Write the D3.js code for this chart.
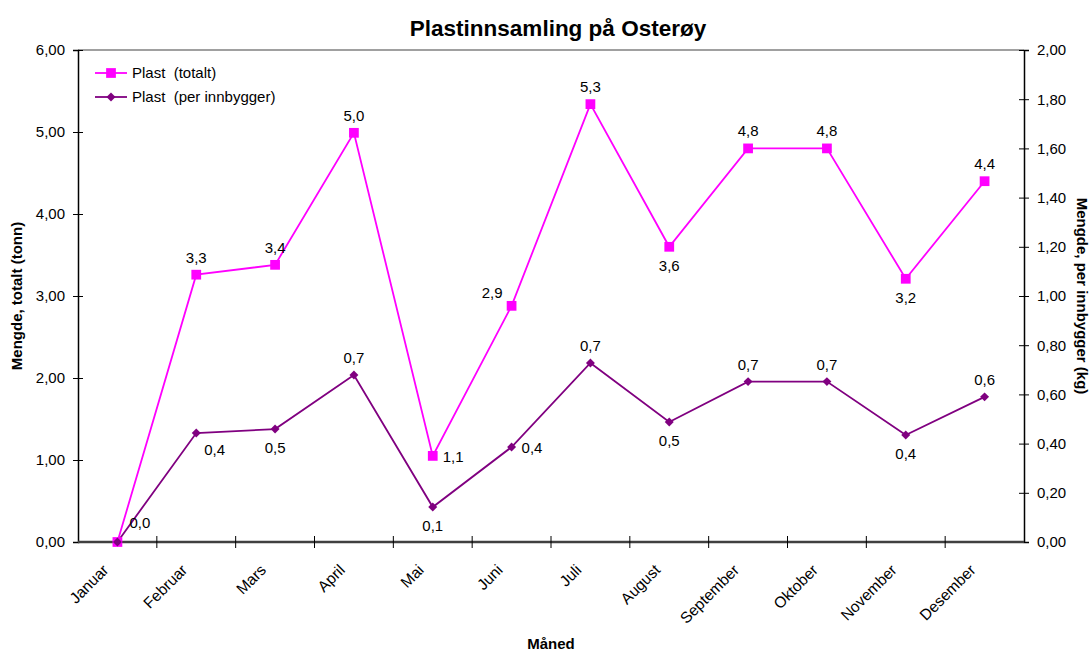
<!DOCTYPE html>
<html>
<head>
<meta charset="utf-8">
<script src="https://cdn.jsdelivr.net/npm/d3@7"></script>
<style>
  body { margin: 0; background: #fff; }
  text { font-family: "Liberation Sans", Arial, sans-serif; fill: #000; white-space: pre; }
</style>
</head>
<body>
<script>
// data
var months = ["Januar", "Februar", "Mars", "April", "Mai", "Juni", "Juli", "August", "September", "Oktober", "November", "Desember"];
var totalt = [0, 3.26, 3.38, 4.99, 1.05, 2.88, 5.34, 3.60, 4.80, 4.80, 3.21, 4.40];
var perInnbygger = [0, 0.443, 0.459, 0.679, 0.142, 0.386, 0.728, 0.488, 0.652, 0.652, 0.435, 0.59];
var leftTicks = [0, 1, 2, 3, 4, 5, 6];
var rightTicks = [0, 0.2, 0.4, 0.6, 0.8, 1.0, 1.2, 1.4, 1.6, 1.8, 2.0];

// where each data label sits relative to its marker
var totaltPos = [null, "above", "above", "above", "right", "left", "above", "below", "above", "above", "below", "above"];
var perPos = ["aboveright", "belowright", "below", "above", "below", "right", "above", "below", "above", "above", "below", "above"];

var width = 1092, height = 651;
var margin = {top: 50, right: 68, bottom: 109, left: 78};
var fs = "15px";

var svg = d3.select("body").append("svg")
    .attr("width", width)
    .attr("height", height);

var x = d3.scaleBand()
    .domain(months)
    .range([margin.left, width - margin.right]);

var yL = d3.scaleLinear().domain([0, 6]).range([height - margin.bottom, margin.top]);
var yR = d3.scaleLinear().domain([0, 2]).range([height - margin.bottom, margin.top]);

var cx = function(d, i) { return x(months[i]) + x.bandwidth() / 2; };
var comma = function(f) { return function(v) { return d3.format(f)(v).replace(".", ","); }; };

// title
svg.append("text")
    .attr("x", 558).attr("y", 36)
    .attr("text-anchor", "middle")
    .style("font-size", "22.5px").style("font-weight", "bold")
    .text("Plastinnsamling på Osterøy");

// top border of plot area
svg.append("line")
    .attr("x1", margin.left).attr("x2", width - margin.right)
    .attr("y1", margin.top).attr("y2", margin.top)
    .attr("stroke", "#808080").attr("stroke-width", 1.5);

// left axis
var gL = svg.append("g")
    .attr("transform", "translate(" + margin.left + ",0)")
    .call(d3.axisLeft(yL).tickValues(leftTicks).tickFormat(comma(".2f")).tickSize(5).tickPadding(8));
gL.selectAll(".tick line").attr("x2", 5).attr("x1", -5);

// right axis
var gR = svg.append("g")
    .attr("transform", "translate(" + (width - margin.right) + ",0)")
    .call(d3.axisRight(yR).tickValues(rightTicks).tickFormat(comma(".2f")).tickSize(5).tickPadding(8));
gR.selectAll(".tick line").attr("x1", -5).attr("x2", 5);

[gL, gR].forEach(function(g) {
    g.select(".domain").attr("stroke", "#000").attr("stroke-width", 1.5);
    g.selectAll(".tick line").attr("stroke", "#000");
    g.selectAll(".tick text")
        .style("font-size", fs)
        .style("font-family", "'Liberation Sans', Arial, sans-serif");
});

// bottom axis
var gX = svg.append("g").attr("transform", "translate(0," + (height - margin.bottom) + ")");
gX.append("line")
    .attr("x1", margin.left).attr("x2", width - margin.right)
    .attr("stroke", "#404040").attr("stroke-width", 2.5);
gX.selectAll(".xt")
    .data(months.slice(1))
    .enter().append("line")
    .attr("x1", function(d) { return x(d); })
    .attr("x2", function(d) { return x(d); })
    .attr("y1", -6).attr("y2", 6)
    .attr("stroke", "#000");
gX.selectAll(".xl")
    .data(months)
    .enter().append("text")
    .attr("text-anchor", "end")
    .attr("transform", function(d) {
        return "translate(" + (x(d) + x.bandwidth() / 2 - 8) + ",29) rotate(-45)";
    })
    .style("font-size", "15.5px")
    .text(function(d) { return d; });

// axis titles
var midY = margin.top + (height - margin.bottom - margin.top) / 2;
svg.append("text")
    .attr("transform", "translate(22," + midY + ") rotate(-90)")
    .attr("text-anchor", "middle")
    .style("font-size", fs).style("font-weight", "bold")
    .text("Mengde, totalt (tonn)");
svg.append("text")
    .attr("transform", "translate(1077," + midY + ") rotate(90)")
    .attr("text-anchor", "middle")
    .style("font-size", fs).style("font-weight", "bold")
    .text("Mengde, per innbygger (kg)");
svg.append("text")
    .attr("x", 551).attr("y", 649)
    .attr("text-anchor", "middle")
    .style("font-size", fs).style("font-weight", "bold")
    .text("Måned");

// lines
var lineL = d3.line().x(cx).y(function(d) { return yL(d); });
var lineR = d3.line().x(cx).y(function(d) { return yR(d); });

svg.append("path").datum(totalt)
    .attr("d", lineL).attr("fill", "none")
    .attr("stroke", "#ff00ff").attr("stroke-width", 1.8);
svg.append("path").datum(perInnbygger)
    .attr("d", lineR).attr("fill", "none")
    .attr("stroke", "#800080").attr("stroke-width", 1.8);

// markers: square and a 45°-turned square for the diamond
var sq = d3.symbol().type(d3.symbolSquare).size(95);
var dm = d3.symbol().type(d3.symbolSquare).size(40);

svg.selectAll(".mt").data(totalt).enter().append("path")
    .attr("d", sq)
    .attr("transform", function(d, i) { return "translate(" + cx(d, i) + "," + yL(d) + ")"; })
    .attr("fill", "#ff00ff");
svg.selectAll(".mp").data(perInnbygger).enter().append("path")
    .attr("d", dm)
    .attr("transform", function(d, i) { return "translate(" + cx(d, i) + "," + yR(d) + ") rotate(45)"; })
    .attr("fill", "#800080");

// data labels
function offset(pos) {
    switch (pos) {
        case "above": return [0, -12, "middle"];
        case "below": return [0, 24, "middle"];
        case "right": return [10, 6, "start"];
        case "left": return [-9, -8, "end"];
        case "belowright": return [8, 22, "start"];
        case "aboveright": return [12, -14, "start"];
    }
    return [0, 0, "middle"];
}
function addLabels(values, pos, y) {
    values.forEach(function(v, i) {
        if (!pos[i]) return;
        var o = offset(pos[i]);
        svg.append("text")
            .attr("x", cx(v, i) + o[0])
            .attr("y", y(v) + o[1])
            .attr("text-anchor", o[2])
            .style("font-size", fs)
            .text(comma(".1f")(v));
    });
}
addLabels(totalt, totaltPos, yL);
addLabels(perInnbygger, perPos, yR);

// legend
var legend = [
    {name: "Plast  (totalt)", color: "#ff00ff", sym: sq, rot: 0},
    {name: "Plast  (per innbygger)", color: "#800080", sym: dm, rot: 45}
];
var lg = svg.selectAll(".lg").data(legend).enter().append("g")
    .attr("transform", function(d, i) { return "translate(95," + (73 + i * 24) + ")"; });
lg.append("line").attr("x1", 0).attr("x2", 32)
    .attr("stroke", function(d) { return d.color; }).attr("stroke-width", 1.8);
lg.append("path").attr("d", function(d) { return d.sym(); })
    .attr("transform", function(d) { return "translate(16,0) rotate(" + d.rot + ")"; })
    .attr("fill", function(d) { return d.color; });
lg.append("text").attr("x", 37).attr("y", 5)
    .style("font-size", fs)
    .text(function(d) { return d.name; });
</script>
</body>
</html>
